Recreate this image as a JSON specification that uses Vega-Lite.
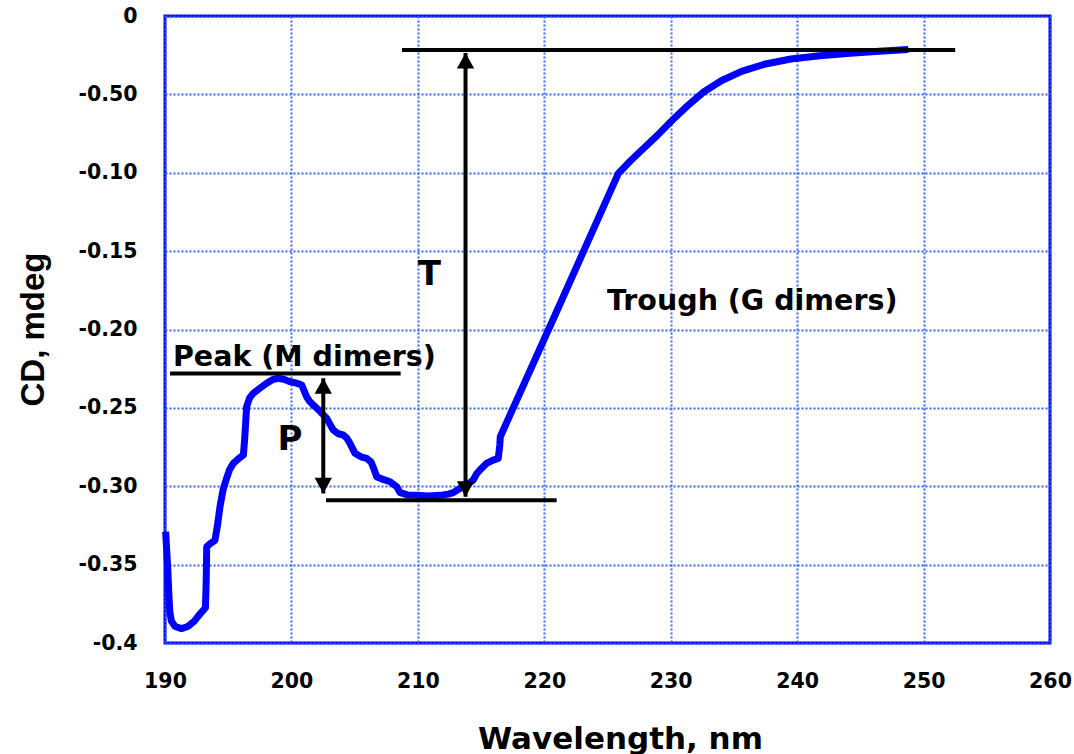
{
  "$schema": "https://vega.github.io/schema/vega-lite/v6.json",
  "width": 885,
  "height": 627,
  "autosize": {"type": "none"},
  "padding": {"left": 165, "top": 16, "right": 24, "bottom": 111},
  "background": "white",
  "config": {
    "view": {"stroke": "#0000ff", "strokeWidth": 3},
    "axis": {
      "domain": false,
      "ticks": false,
      "tickSize": 0,
      "grid": true,
      "gridColor": "#3366ff",
      "gridDash": [2, 2],
      "gridWidth": 2,
      "gridOpacity": 1,
      "labelFont": "DejaVu Sans",
      "labelFontWeight": "bold",
      "labelFontSize": 20.5,
      "labelColor": "black",
      "labelFlush": false,
      "labelOverlap": false,
      "titleColor": "black",
      "titleFontWeight": "bold"
    }
  },
  "datasets": {
    "curve": [
      {"wavelength": 190.05, "cd": -0.329},
      {"wavelength": 190.2, "cd": -0.35},
      {"wavelength": 190.3, "cd": -0.368},
      {"wavelength": 190.38, "cd": -0.38},
      {"wavelength": 190.5, "cd": -0.386},
      {"wavelength": 190.8, "cd": -0.3895},
      {"wavelength": 191.3, "cd": -0.3908},
      {"wavelength": 191.8, "cd": -0.3895},
      {"wavelength": 192.3, "cd": -0.3862},
      {"wavelength": 192.8, "cd": -0.3812},
      {"wavelength": 193.2, "cd": -0.3775},
      {"wavelength": 193.26, "cd": -0.36},
      {"wavelength": 193.3, "cd": -0.3386},
      {"wavelength": 193.6, "cd": -0.3365},
      {"wavelength": 193.95, "cd": -0.3345},
      {"wavelength": 194.15, "cd": -0.325},
      {"wavelength": 194.35, "cd": -0.313},
      {"wavelength": 194.6, "cd": -0.302},
      {"wavelength": 194.85, "cd": -0.2955},
      {"wavelength": 195.1, "cd": -0.2895},
      {"wavelength": 195.4, "cd": -0.2854},
      {"wavelength": 195.8, "cd": -0.2825},
      {"wavelength": 196.2, "cd": -0.28},
      {"wavelength": 196.3, "cd": -0.27},
      {"wavelength": 196.36, "cd": -0.262},
      {"wavelength": 196.46, "cd": -0.249},
      {"wavelength": 196.7, "cd": -0.2435},
      {"wavelength": 196.99, "cd": -0.2407},
      {"wavelength": 197.5, "cd": -0.2375},
      {"wavelength": 198.04, "cd": -0.2343},
      {"wavelength": 198.5, "cd": -0.232},
      {"wavelength": 198.96, "cd": -0.2311},
      {"wavelength": 199.4, "cd": -0.2318},
      {"wavelength": 199.89, "cd": -0.2333},
      {"wavelength": 200.4, "cd": -0.2342},
      {"wavelength": 200.81, "cd": -0.2354},
      {"wavelength": 201.0, "cd": -0.239},
      {"wavelength": 201.2, "cd": -0.2429},
      {"wavelength": 201.45, "cd": -0.246},
      {"wavelength": 201.73, "cd": -0.2482},
      {"wavelength": 202.3, "cd": -0.2525},
      {"wavelength": 202.79, "cd": -0.2567},
      {"wavelength": 203.05, "cd": -0.2605},
      {"wavelength": 203.31, "cd": -0.2641},
      {"wavelength": 203.7, "cd": -0.2665},
      {"wavelength": 204.1, "cd": -0.2673},
      {"wavelength": 204.4, "cd": -0.2695},
      {"wavelength": 204.63, "cd": -0.2726},
      {"wavelength": 205.03, "cd": -0.279},
      {"wavelength": 205.5, "cd": -0.2812},
      {"wavelength": 205.95, "cd": -0.2822},
      {"wavelength": 206.3, "cd": -0.2845},
      {"wavelength": 206.55, "cd": -0.2895},
      {"wavelength": 206.74, "cd": -0.2939},
      {"wavelength": 207.2, "cd": -0.2955},
      {"wavelength": 207.8, "cd": -0.2971},
      {"wavelength": 208.33, "cd": -0.3003},
      {"wavelength": 208.59, "cd": -0.3041},
      {"wavelength": 209.2, "cd": -0.3055},
      {"wavelength": 209.9, "cd": -0.3058},
      {"wavelength": 210.8, "cd": -0.3062},
      {"wavelength": 211.75, "cd": -0.3058},
      {"wavelength": 212.4, "cd": -0.305},
      {"wavelength": 212.8, "cd": -0.3041},
      {"wavelength": 213.2, "cd": -0.302},
      {"wavelength": 213.6, "cd": -0.3003},
      {"wavelength": 214.0, "cd": -0.2985},
      {"wavelength": 214.38, "cd": -0.296},
      {"wavelength": 214.65, "cd": -0.292},
      {"wavelength": 214.91, "cd": -0.2896},
      {"wavelength": 215.44, "cd": -0.2854},
      {"wavelength": 215.9, "cd": -0.2835},
      {"wavelength": 216.36, "cd": -0.2822},
      {"wavelength": 216.48, "cd": -0.2737},
      {"wavelength": 216.52, "cd": -0.2684},
      {"wavelength": 221.2, "cd": -0.1845},
      {"wavelength": 225.86, "cd": -0.1004},
      {"wavelength": 226.8, "cd": -0.0925},
      {"wavelength": 227.8, "cd": -0.0848},
      {"wavelength": 228.9, "cd": -0.0765},
      {"wavelength": 230.1, "cd": -0.0667},
      {"wavelength": 231.3, "cd": -0.0575},
      {"wavelength": 232.6, "cd": -0.0485},
      {"wavelength": 234.0, "cd": -0.0413},
      {"wavelength": 235.6, "cd": -0.0353},
      {"wavelength": 237.5, "cd": -0.0306},
      {"wavelength": 239.5, "cd": -0.0274},
      {"wavelength": 241.8, "cd": -0.0253},
      {"wavelength": 244.2, "cd": -0.0238},
      {"wavelength": 246.5, "cd": -0.0225},
      {"wavelength": 248.79, "cd": -0.0213}
    ],
    "hlines": [
      {"x1": 208.75, "x2": 252.5, "y": -0.0217},
      {"x1": 190.4, "x2": 208.64, "y": -0.228},
      {"x1": 202.73, "x2": 220.98, "y": -0.309}
    ],
    "arrows": [
      {"x": 213.77, "y1": -0.0236, "y2": -0.3067},
      {"x": 202.52, "y1": -0.2311, "y2": -0.3046}
    ],
    "heads": [
      {"x": 213.77, "y": -0.0236, "end": "top"},
      {"x": 213.77, "y": -0.3067, "end": "bottom"},
      {"x": 202.52, "y": -0.2311, "end": "top"},
      {"x": 202.52, "y": -0.3046, "end": "bottom"}
    ],
    "labels": [
      {"text": "Peak (M dimers)", "x": 190.63, "y": -0.2233},
      {"text": "Trough (G dimers)", "x": 224.96, "y": -0.1876}
    ],
    "letters": [
      {"text": "T", "x": 210.0, "y": -0.1716},
      {"text": "P", "x": 198.9, "y": -0.2769}
    ]
  },
  "layer": [
    {
      "data": {"name": "curve"},
      "mark": {"type": "line", "color": "#0000ff", "strokeWidth": 7, "strokeJoin": "round"},
      "encoding": {
        "x": {
          "field": "wavelength",
          "type": "quantitative",
          "scale": {"domain": [190, 260], "nice": false, "zero": false},
          "axis": {
            "values": [190, 200, 210, 220, 230, 240, 250, 260],
            "format": "d",
            "labelPadding": 28,
            "title": "Wavelength, nm",
            "titleFont": "DejaVu Sans",
            "titleFontSize": 31,
            "titleBaseline": "alphabetic",
            "titleX": 455,
            "titleY": 105
          }
        },
        "y": {
          "field": "cd",
          "type": "quantitative",
          "scale": {"domain": [-0.4, 0], "nice": false, "zero": false},
          "axis": {
            "values": [0, -0.05, -0.1, -0.15, -0.2, -0.25, -0.3, -0.35, -0.4],
            "labelExpr": "abs(datum.value) < 0.001 ? '0' : abs(datum.value + 0.05) < 0.001 ? '-0.50' : abs(datum.value + 0.4) < 0.001 ? '-0.4' : '-' + format(abs(datum.value), '.2f')",
            "labelPadding": 28,
            "title": "CD, mdeg",
            "titleFont": "Liberation Sans",
            "titleFontSize": 33,
            "titleAngle": 270,
            "titleBaseline": "alphabetic",
            "titleAlign": "center",
            "titleX": -122,
            "titleY": 313
          }
        }
      }
    },
    {
      "data": {"name": "hlines"},
      "mark": {"type": "rule", "color": "black", "strokeWidth": 4},
      "encoding": {
        "x": {"field": "x1", "type": "quantitative"},
        "x2": {"field": "x2"},
        "y": {"field": "y", "type": "quantitative"}
      }
    },
    {
      "data": {"name": "arrows"},
      "mark": {"type": "rule", "color": "black", "strokeWidth": 4},
      "encoding": {
        "x": {"field": "x", "type": "quantitative"},
        "y": {"field": "y1", "type": "quantitative"},
        "y2": {"field": "y2"}
      }
    },
    {
      "data": {"name": "heads"},
      "mark": {"type": "point", "filled": true, "color": "black", "opacity": 1, "size": 300},
      "encoding": {
        "x": {"field": "x", "type": "quantitative"},
        "y": {"field": "y", "type": "quantitative"},
        "shape": {
          "field": "end",
          "type": "nominal",
          "scale": {"domain": ["top", "bottom"], "range": ["M0,0L-1,1.8L1,1.8Z", "M0,0L-1,-1.8L1,-1.8Z"]},
          "legend": null
        }
      }
    },
    {
      "data": {"name": "labels"},
      "mark": {"type": "text", "font": "DejaVu Sans", "fontWeight": "bold", "fontSize": 28.5, "align": "left", "baseline": "alphabetic", "color": "black"},
      "encoding": {
        "x": {"field": "x", "type": "quantitative"},
        "y": {"field": "y", "type": "quantitative"},
        "text": {"field": "text"}
      }
    },
    {
      "data": {"name": "letters"},
      "mark": {"type": "text", "font": "DejaVu Sans", "fontWeight": "bold", "fontSize": 34, "align": "left", "baseline": "alphabetic", "color": "black"},
      "encoding": {
        "x": {"field": "x", "type": "quantitative"},
        "y": {"field": "y", "type": "quantitative"},
        "text": {"field": "text"}
      }
    }
  ]
}
